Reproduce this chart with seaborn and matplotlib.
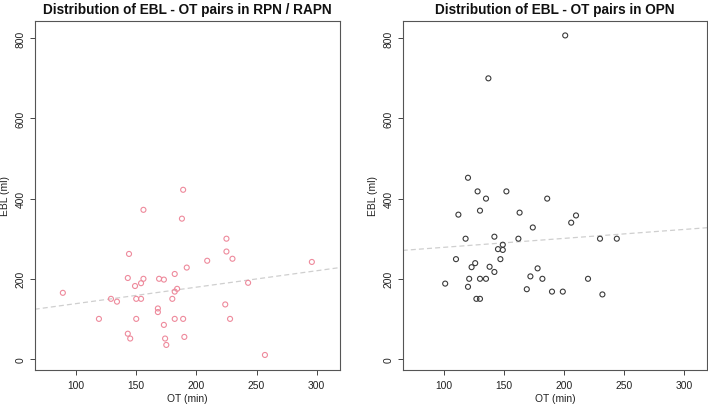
import numpy as np
import pandas as pd
import matplotlib
matplotlib.use("Agg")
import matplotlib.pyplot as plt
import seaborn as sns

sns.set_theme(style="white")
plt.rcParams['font.family'] = ['Liberation Sans', 'DejaVu Sans']

# RPN / RAPN group
rpn_ot = [189, 156, 188, 225, 144, 225, 230, 209, 296, 192, 182, 143, 156, 169, 173,
          154, 149, 243, 184, 182, 89, 129, 134, 150, 154, 180, 224, 168, 168, 119,
          150, 182, 189, 228, 173, 143, 145, 174, 190, 175, 257]
rpn_ebl = [422, 372, 350, 300, 262, 268, 250, 245, 242, 228, 212, 202, 200, 200, 198,
           189, 182, 190, 175, 168, 165, 150, 143, 150, 150, 150, 136, 126, 117, 100,
           100, 100, 100, 100, 85, 63, 51, 51, 55, 35, 10]

# OPN group
opn_ot = [201, 137, 120, 128, 152, 135, 186, 112, 130, 163, 210, 206, 174, 118, 142,
          162, 230, 244, 149, 145, 149, 110, 147, 126, 123, 138, 178, 142, 172, 121,
          130, 135, 182, 220, 101, 120, 169, 190, 199, 232, 127, 130]
opn_ebl = [807, 700, 452, 418, 418, 400, 400, 360, 370, 365, 358, 340, 328, 300, 305,
           300, 300, 300, 285, 274, 272, 249, 249, 239, 229, 230, 226, 217, 206, 200,
           200, 200, 200, 200, 188, 180, 174, 168, 168, 161, 150, 150]

# fitted trend lines (intercept, slope) as shown in the chart
trend_intercepts = [97.1, 256.2]
trend_slopes = [0.41, 0.223]

titles = ["Distribution of EBL - OT pairs in RPN / RAPN",
          "Distribution of EBL - OT pairs in OPN"]
xlabel = "OT (min)"
ylabel = "EBL (ml)"
xticks = [100, 150, 200, 250, 300]
yticks = [0, 200, 400, 600, 800]

fig = plt.figure(figsize=(7.08, 4.06), dpi=100)
W, H = 708, 406
boxes = [(34.7, 22, 340, 371), (402.7, 22, 707.3, 371)]
colors = ['#EE8A9C', '#3a3a3a']
datasets = [(rpn_ot, rpn_ebl), (opn_ot, opn_ebl)]
XLIM = (65.6, 319.4)
YLIM = (-27.5, 843)

for (l, t, r, b), col, (xs, ys), title, a0, a1 in zip(boxes, colors, datasets, titles,
                                                     trend_intercepts, trend_slopes):
    ax = fig.add_axes([l / W, 1 - b / H, (r - l) / W, (b - t) / H])
    df = pd.DataFrame({"OT": xs, "EBL": ys})
    sns.scatterplot(data=df, x="OT", y="EBL", ax=ax, marker='o', s=13,
                    facecolor='none', edgecolor=col, linewidth=0.8, zorder=3)
    lx = np.array(XLIM)
    line_df = pd.DataFrame({"OT": lx, "EBL": a0 + a1 * lx})
    sns.lineplot(data=line_df, x="OT", y="EBL", ax=ax, color='#cfcfcf',
                 linewidth=0.9, linestyle=(0, (4, 2.5)), zorder=2)
    ax.set_xlim(*XLIM)
    ax.set_ylim(*YLIM)
    ax.set_xticks(xticks)
    ax.set_yticks(yticks)
    ax.set_yticklabels([str(v) for v in yticks], rotation=90, va='center')
    ax.tick_params(axis='both', which='both', direction='out', length=3.5,
                   width=0.7, color='#444444', labelsize=7.4, labelcolor='#222222')
    ax.tick_params(axis='x', bottom=True, pad=4)
    ax.tick_params(axis='y', left=True, pad=3)
    for sp in ax.spines.values():
        sp.set_color('#555555')
        sp.set_linewidth(0.8)
        sp.set_visible(True)
    ax.set_xlabel(xlabel, fontsize=7.4, color='#222222', labelpad=2)
    ax.set_ylabel(ylabel, fontsize=7.4, color='#222222', labelpad=4)
    ax.set_title(title, fontsize=9.8, fontweight='bold', color='#111111', pad=6)
    ax.grid(False)
    ax.set_facecolor('white')

fig.savefig("out.png", dpi=100)
